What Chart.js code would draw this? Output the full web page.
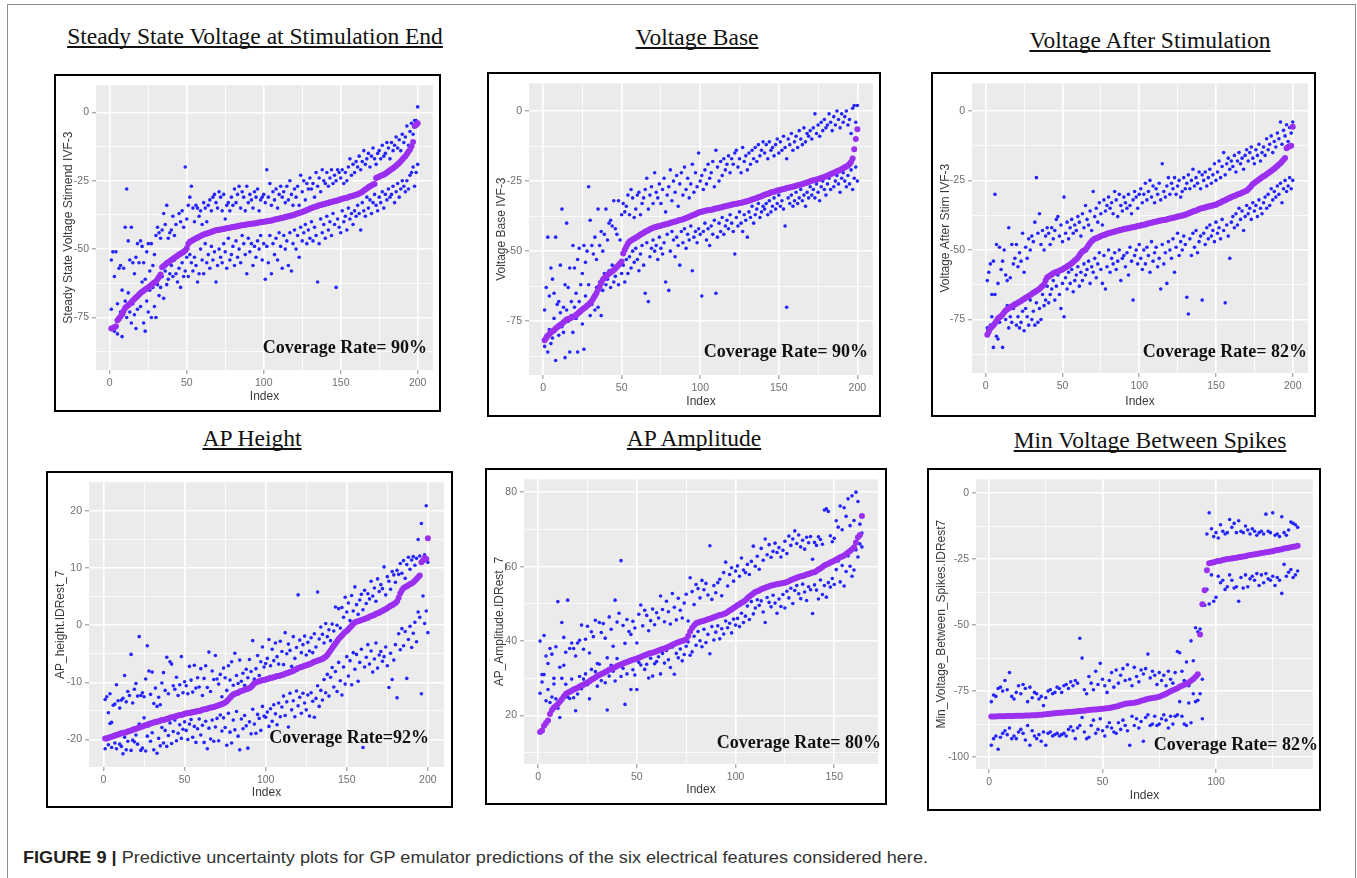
<!DOCTYPE html>
<html>
<head>
<meta charset="utf-8">
<script src="https://cdn.jsdelivr.net/npm/chart.js@4"></script>
<style>
    body { margin: 0; background: #fff; width: 1357px; height: 878px; position: relative; overflow: hidden; }
    .frame { position: absolute; left: 7px; top: 4px; width: 1349px; height: 900px; box-sizing: border-box; border: 1.5px solid #8c8c8c; border-bottom: none; }
    .title { position: absolute; font-family: "Liberation Serif", serif; font-size: 23.5px; line-height: 1; color: #111; white-space: nowrap;
             text-decoration: underline; text-decoration-thickness: 1.5px; text-underline-offset: 2px; text-decoration-skip-ink: none; transform: translateX(-50%); }
    .box { position: absolute; box-sizing: border-box; border: 2px solid #000; background: #fff; }
    .box canvas { position: absolute; left: 0; top: 0; }
    .caption { position: absolute; left: 23px; top: 849px; font-family: "Liberation Sans", Arial, sans-serif; font-size: 17px; line-height: 1;
               color: #333; white-space: nowrap; transform-origin: 0 0; }
    .caption b { color: #231f20; }
</style>
</head>
<body>
<div class="frame"></div>
<div id="panels"></div>
<div class="caption" id="caption"><b>FIGURE 9 |</b> Predictive uncertainty plots for GP emulator predictions of the six electrical features considered here.</div>
<script>
// --- tick values ---
const xTicks200 = [0, 25, 50, 75, 100, 125, 150, 175, 200];
const xTicksAmp = [0, 25, 50, 75, 100, 125, 150];
const xTicksMin = [0, 25, 50, 75, 100, 125];
const yTicksVolt = [-87.5, -75, -62.5, -50, -37.5, -25, -12.5, 0];
const yTicksHeight = [-20, -15, -10, -5, 0, 5, 10, 15, 20];
const yTicksAmp = [10, 20, 30, 40, 50, 60, 70, 80];
const yTicksMin = [-100, -87.5, -75, -62.5, -50, -37.5, -25, -12.5, 0];

// --- Steady State Voltage at Stimulation End ---
const steadyMean = [
    -79,-79,-78.6,-78.2,-76,-75.4,-74.6,-73.6,-72.6,-71.5,
    -71,-70.5,-70,-69.4,-68.8,-68.2,-67.7,-67.2,-66.6,-66,
    -65.6,-65.2,-64.8,-64.4,-64,-63.6,-63.1,-62.6,-62.2,-61.8,
    -61,-60.2,-59.3,-56.6,-56.2,-55.7,-55.2,-54.8,-54.4,-54,
    -53.6,-53.2,-52.8,-52.4,-52,-51.7,-51.3,-51,-50.5,-49.7,
    -48,-47.3,-47,-46.7,-46.4,-46,-45.8,-45.5,-45.2,-44.9,
    -44.7,-44.5,-44.3,-44.1,-43.9,-43.7,-43.5,-43.3,-43.1,-43,
    -42.9,-42.8,-42.7,-42.6,-42.5,-42.4,-42.3,-42.2,-42,-41.9,
    -41.8,-41.7,-41.6,-41.5,-41.4,-41.3,-41.2,-41.1,-41,-40.9,
    -40.8,-40.7,-40.6,-40.6,-40.5,-40.4,-40.3,-40.2,-40.1,-40,
    -39.9,-39.8,-39.7,-39.6,-39.5,-39.4,-39.2,-39.1,-39,-38.8,
    -38.7,-38.6,-38.4,-38.3,-38.2,-38,-37.9,-37.7,-37.6,-37.4,
    -37.2,-37,-36.8,-36.6,-36.4,-36.2,-36,-35.7,-35.5,-35.2,
    -35,-34.8,-34.6,-34.4,-34.2,-34,-33.9,-33.7,-33.6,-33.4,
    -33.2,-33.1,-32.9,-32.8,-32.6,-32.5,-32.3,-32.2,-32,-31.8,
    -31.6,-31.5,-31.3,-31.2,-31,-30.8,-30.7,-30.5,-30.3,-30.1,
    -29.9,-29.7,-29.4,-29.1,-28.6,-28.2,-27.8,-27.4,-27,-26.7,
    -26.4,-26.2,-24,-23.7,-23.5,-23.2,-23,-22.7,-22.4,-22,
    -21.6,-21.2,-20.8,-20.4,-20,-19.5,-19,-18.5,-17.9,-17.2,
    -16.6,-16,-15.2,-14.4,-13.6,-12.4,-10.8,-5,-4.6,-4
];
const steadyUpper = [
    -54,-51,-60,-51,-70,-57,-56,-65,-57,-42,
    -28,-47,-54,-42,-55,-59,-53,-48,-55,-47,
    -49,-55,-61,-51,-48,-58,-48,-56,-52,-45,
    -42,-44,-46,-43,-37,-41,-34,-46,-44,-43,
    -38,-45,-41,-52,-37,-40,-36,-42,-20,-39,
    -34,-31,-27,-35,-40,-34,-35,-38,-36,-41,
    -33,-35,-40,-34,-32,-36,-31,-30,-33,-35,
    -29,-31,-36,-30,-39,-34,-33,-36,-31,-34,
    -28,-33,-30,-27,-35,-29,-31,-36,-27,-33,
    -30,-32,-35,-29,-31,-28,-36,-32,-31,-30,
    -33,-21,-31,-26,-34,-29,-32,-28,-35,-30,
    -27,-31,-29,-33,-27,-32,-25,-30,-34,-28,
    -31,-27,-34,-23,-29,-25,-32,-26,-28,-24,
    -28,-26,-31,-22,-27,-24,-29,-21,-25,-26,
    -22,-27,-24,-21,-26,-23,-25,-21,-22,-24,
    -21,-26,-22,-25,-20,-17,-23,-19,-22,-18,
    -20,-16,-21,-18,-14,-19,-17,-15,-20,-16,
    -13,-17,-19,-15,-14,-17,-12,-16,-15,-11,
    -13,-17,-11,-14,-12,-9,-13,-10,-14,-8,
    -11,-9,-5,-12,-7,-4,-8,-3,-3,2
];
const steadyLower = [
    -72,-79,-80,-78,-81,-76,-73,-82,-74,-69,
    -75,-66,-73,-77,-70,-74,-79,-72,-67,-71,
    -62,-77,-80,-69,-73,-65,-75,-64,-71,-75,
    -63,-67,-64,-60,-68,-58,-63,-61,-59,-56,
    -60,-54,-59,-62,-57,-64,-55,-60,-58,-53,
    -60,-52,-55,-58,-53,-56,-62,-59,-50,-54,
    -59,-48,-55,-52,-57,-49,-54,-51,-62,-56,
    -50,-53,-55,-48,-51,-57,-46,-54,-52,-49,
    -56,-47,-53,-50,-55,-45,-48,-52,-59,-46,
    -51,-48,-56,-49,-53,-47,-50,-45,-54,-48,
    -61,-49,-55,-45,-59,-48,-52,-46,-54,-44,
    -49,-57,-45,-50,-47,-56,-44,-58,-48,-43,
    -50,-45,-53,-42,-47,-44,-41,-48,-43,-46,
    -40,-47,-42,-45,-62,-48,-39,-44,-41,-46,
    -38,-43,-40,-45,-37,-41,-64,-39,-42,-44,
    -36,-40,-38,-43,-35,-39,-37,-41,-36,-38,
    -34,-37,-43,-33,-36,-38,-31,-35,-32,-37,
    -33,-30,-34,-36,-31,-33,-29,-35,-30,-32,
    -28,-31,-30,-27,-33,-29,-26,-31,-28,-25,
    -27,-29,-25,-28,-23,-22,-20,-27,-22,-19
];

// --- Voltage Base ---
const baseMean = [
    -81.8,-81,-80.3,-79.6,-79,-78.6,-78.2,-77.6,-77.2,-76.7,
    -76.3,-75.9,-75.4,-74.9,-74.4,-74.2,-74,-73.8,-73.5,-73.2,
    -72.8,-72.3,-71.8,-71.3,-70.8,-70.4,-70,-69.5,-69,-68.5,
    -67.8,-66.9,-65.9,-64.9,-63.8,-62.6,-61.4,-60.2,-59.6,-59,
    -58.5,-58,-57.6,-57.2,-56.7,-56.2,-55.6,-55,-54.4,-53.7,
    -50.8,-49.5,-48.3,-47.3,-46.6,-46.2,-45.8,-45.5,-45.2,-44.9,
    -44.5,-44.1,-43.8,-43.4,-43.1,-42.8,-42.5,-42.2,-41.9,-41.7,
    -41.5,-41.3,-41.2,-41,-40.9,-40.7,-40.6,-40.4,-40.3,-40.1,
    -39.9,-39.8,-39.6,-39.4,-39.3,-39.1,-38.9,-38.8,-38.6,-38.4,
    -38.2,-38,-37.7,-37.5,-37.2,-37,-36.8,-36.5,-36.3,-36,
    -35.9,-35.8,-35.6,-35.5,-35.4,-35.3,-35.2,-35.1,-34.9,-34.8,
    -34.7,-34.5,-34.4,-34.3,-34.1,-34,-33.8,-33.7,-33.6,-33.4,
    -33.3,-33.2,-33.1,-33,-32.8,-32.7,-32.6,-32.5,-32.3,-32.2,
    -32,-31.8,-31.6,-31.4,-31.2,-31,-30.8,-30.6,-30.4,-30.1,
    -29.9,-29.7,-29.5,-29.3,-29.1,-28.9,-28.8,-28.6,-28.4,-28.3,
    -28.1,-28,-27.8,-27.7,-27.5,-27.4,-27.3,-27.1,-27,-26.8,
    -26.7,-26.5,-26.4,-26.2,-26.1,-25.9,-25.7,-25.5,-25.3,-25.1,
    -24.9,-24.7,-24.6,-24.4,-24.3,-24.1,-23.9,-23.7,-23.5,-23.3,
    -23,-22.8,-22.5,-22.3,-22,-21.8,-21.5,-21.3,-21,-20.7,
    -20.4,-20.1,-19.8,-19.4,-18.9,-18.2,-16.9,-13.6,-10,-6.5
];
const baseUpper = [
    -71,-63,-45,-66,-56,-60,-65,-45,-69,-68,
    -55,-35,-70,-62,-40,-63,-56,-68,-48,-56,
    -65,-53,-49,-62,-58,-48,-54,-50,-27,-39,
    -48,-51,-45,-53,-35,-48,-43,-50,-44,-35,
    -46,-40,-39,-41,-32,-42,-44,-32,-46,-37,
    -33,-36,-34,-30,-37,-28,-31,-38,-35,-30,
    -29,-37,-33,-31,-28,-24,-35,-30,-27,-33,
    -22,-29,-31,-26,-33,-28,-24,-36,-30,-27,
    -21,-32,-25,-29,-23,-34,-26,-22,-30,-20,
    -28,-24,-31,-26,-19,-29,-22,-27,-15,-25,
    -23,-28,-21,-26,-19,-24,-22,-18,-27,-14,
    -20,-25,-18,-23,-17,-21,-19,-16,-22,-17,
    -19,-15,-14,-20,-17,-22,-13,-18,-16,-21,
    -15,-19,-14,-17,-13,-18,-12,-16,-14,-11,
    -15,-12,-17,-11,-14,-13,-16,-12,-10,-15,
    -11,-14,-9,-13,-17,-10,-12,-8,-14,-11,
    -9,-13,-7,-10,-12,-6,-11,-8,-9,-7,
    -10,-6,-1,-8,-5,-9,-4,-7,-3,-6,
    -5,-1,-4,-7,-2,-5,0,-3,-6,-1,
    -4,-2,0,-5,-3,-8,1,2,-4,2
];
const baseLower = [
    -84,-80,-86,-78,-83,-81,-74,-89,-77,-80,
    -72,-77,-79,-88,-71,-75,-86,-73,-79,-70,
    -74,-86,-68,-72,-76,-85,-66,-70,-62,-73,
    -69,-66,-71,-63,-70,-61,-73,-64,-58,-62,
    -60,-57,-63,-55,-61,-59,-56,-62,-54,-58,
    -55,-61,-53,-58,-52,-56,-50,-54,-49,-53,
    -57,-51,-48,-55,-65,-47,-68,-52,-49,-46,
    -50,-48,-53,-45,-49,-51,-47,-61,-44,-64,
    -50,-43,-46,-52,-45,-48,-55,-43,-47,-42,
    -49,-44,-46,-41,-57,-45,-43,-47,-42,-44,
    -66,-43,-40,-46,-42,-48,-41,-44,-39,-65,
    -45,-40,-43,-38,-44,-41,-39,-42,-37,-40,
    -43,-51,-38,-41,-36,-40,-43,-37,-39,-45,
    -36,-38,-34,-40,-37,-35,-33,-38,-36,-34,
    -35,-33,-37,-32,-36,-34,-31,-35,-33,-30,
    -34,-32,-35,-41,-70,-31,-33,-30,-34,-32,
    -29,-33,-31,-28,-32,-30,-34,-29,-31,-27,
    -30,-28,-31,-26,-29,-32,-27,-25,-28,-30,
    -26,-24,-28,-22,-27,-25,-23,-26,-29,-24,
    -22,-25,-27,-23,-26,-21,-28,-24,-20,-25
];

// --- Voltage After Stimulation ---
const afterMean = [
    -80.5,-79.3,-78.2,-77.6,-77,-76.3,-75.5,-74.6,-74.2,-73.8,
    -73.2,-72.4,-71.7,-71.3,-70.9,-70.6,-70.2,-69.9,-69.6,-69.3,
    -69,-68.6,-68.3,-67.9,-67.6,-67.2,-66.9,-66.5,-66.2,-65.8,
    -65.4,-65.1,-64.7,-64.4,-64,-63.4,-62.9,-62.3,-61,-59.9,
    -59.5,-59.2,-58.8,-58.4,-58.1,-57.9,-57.7,-57.5,-57.2,-57,
    -56.6,-56.3,-55.9,-55.6,-55.2,-54.8,-54.3,-53.8,-53.3,-52.8,
    -52,-51.2,-50.5,-50.2,-49.9,-49.1,-48.3,-47.5,-46.9,-46.3,
    -46,-45.8,-45.5,-45.3,-45,-44.8,-44.6,-44.4,-44.2,-44,
    -43.8,-43.7,-43.5,-43.4,-43.2,-43.1,-42.9,-42.8,-42.6,-42.5,
    -42.4,-42.3,-42.2,-42,-41.9,-41.8,-41.7,-41.6,-41.4,-41.3,
    -41.2,-41,-40.9,-40.8,-40.6,-40.5,-40.3,-40.2,-40,-39.9,
    -39.8,-39.7,-39.5,-39.4,-39.3,-39.2,-39.1,-39,-38.8,-38.7,
    -38.6,-38.4,-38.3,-38.2,-38,-37.9,-37.8,-37.6,-37.5,-37.3,
    -37.1,-36.9,-36.6,-36.4,-36.2,-36,-35.8,-35.6,-35.3,-35.1,
    -35,-34.8,-34.7,-34.5,-34.4,-34.3,-34.1,-34,-33.8,-33.7,
    -33.4,-33.1,-32.9,-32.6,-32.3,-32.1,-31.8,-31.5,-31.3,-31,
    -30.8,-30.6,-30.3,-30.1,-29.9,-29.7,-29.4,-29.2,-28.9,-28.7,
    -28.2,-27.6,-27,-26.3,-25.9,-25.5,-25.1,-24.7,-24.3,-23.9,
    -23.5,-23.2,-22.8,-22.4,-22,-21.6,-21.2,-20.8,-20.3,-19.8,
    -19.3,-18.8,-18.2,-17.6,-16.9,-13.4,-13,-12.7,-12.5,-5.7
];
const afterUpper = [
    -61,-58,-55,-66,-54,-30,-48,-62,-49,-57,
    -54,-50,-59,-61,-42,-60,-48,-55,-53,-48,
    -56,-51,-54,-44,-58,-49,-53,-46,-50,-45,
    -47,-40,-24,-44,-37,-48,-43,-50,-45,-42,
    -44,-48,-42,-46,-43,-39,-38,-45,-41,-47,
    -31,-44,-40,-46,-42,-39,-44,-41,-43,-38,
    -40,-45,-37,-42,-34,-39,-41,-36,-43,-29,
    -38,-35,-40,-33,-37,-41,-32,-36,-34,-31,
    -35,-33,-37,-29,-32,-38,-30,-34,-36,-31,
    -33,-35,-30,-34,-37,-32,-29,-31,-35,-30,
    -28,-33,-30,-26,-32,-29,-25,-31,-27,-33,
    -28,-30,-26,-32,-19,-29,-31,-27,-24,-30,
    -26,-28,-24,-30,-27,-25,-31,-29,-24,-28,
    -26,-23,-28,-25,-21,-27,-24,-26,-22,-28,
    -23,-25,-22,-27,-24,-21,-26,-23,-19,-25,
    -22,-18,-24,-20,-15,-23,-19,-17,-21,-18,
    -20,-16,-22,-18,-15,-19,-17,-21,-16,-14,
    -18,-15,-13,-17,-19,-14,-16,-12,-18,-15,
    -13,-16,-10,-14,-12,-9,-15,-11,-13,-8,
    -10,-4,-12,-7,-9,-5,-11,-6,-8,-4
];
const afterLower = [
    -78,-80,-77,-74,-85,-66,-81,-82,-76,-74,
    -85,-72,-75,-70,-78,-74,-76,-71,-69,-77,
    -74,-78,-76,-72,-79,-71,-74,-77,-68,-75,
    -72,-77,-69,-76,-71,-75,-66,-70,-68,-63,
    -69,-66,-64,-61,-68,-63,-59,-66,-71,-62,
    -74,-60,-64,-58,-62,-57,-65,-61,-59,-56,
    -63,-58,-61,-55,-59,-57,-54,-62,-56,-58,
    -53,-60,-55,-51,-57,-62,-52,-64,-56,-50,
    -58,-53,-55,-51,-57,-54,-50,-61,-53,-52,
    -56,-51,-59,-49,-54,-68,-52,-50,-55,-48,
    -53,-57,-50,-55,-49,-52,-58,-47,-54,-51,
    -49,-56,-53,-64,-48,-55,-51,-62,-47,-50,
    -53,-46,-58,-49,-44,-52,-47,-50,-45,-48,
    -67,-73,-46,-52,-44,-49,-43,-51,-47,-45,
    -68,-44,-48,-42,-46,-41,-45,-43,-47,-40,
    -44,-42,-46,-39,-43,-69,-41,-45,-53,-40,
    -38,-42,-37,-41,-35,-39,-36,-43,-38,-34,
    -37,-35,-39,-33,-36,-34,-38,-32,-35,-37,
    -33,-31,-35,-30,-34,-28,-32,-29,-31,-27,
    -30,-26,-33,-28,-25,-29,-27,-24,-28,-25
];

// --- AP Height ---
const heightMean = [
    -19.8,-19.8,-19.7,-19.6,-19.5,-19.4,-19.3,-19.2,-19.1,-19,
    -18.9,-18.8,-18.8,-18.7,-18.6,-18.5,-18.4,-18.3,-18.2,-18.1,
    -18,-17.9,-17.8,-17.7,-17.6,-17.5,-17.4,-17.3,-17.2,-17.1,
    -17,-16.9,-16.9,-16.8,-16.7,-16.6,-16.6,-16.5,-16.4,-16.3,
    -16.2,-16.1,-16.1,-16,-15.9,-15.8,-15.7,-15.7,-15.6,-15.5,
    -15.4,-15.4,-15.3,-15.3,-15.2,-15.2,-15.1,-15,-15,-14.9,
    -14.8,-14.7,-14.7,-14.6,-14.5,-14.4,-14.4,-14.3,-14.2,-14.1,
    -14,-13.9,-13.8,-13.7,-13.5,-13.3,-13,-12.7,-12.4,-12.1,
    -12,-11.9,-11.8,-11.6,-11.5,-11.4,-11.3,-11.2,-11.1,-11,
    -10.8,-10.5,-10.1,-10,-9.9,-9.8,-9.7,-9.6,-9.6,-9.5,
    -9.4,-9.3,-9.2,-9.2,-9.1,-9,-8.9,-8.9,-8.8,-8.7,
    -8.6,-8.5,-8.4,-8.3,-8.2,-8.1,-8,-7.8,-7.7,-7.5,
    -7.4,-7.3,-7.2,-7.1,-7,-6.9,-6.8,-6.7,-6.5,-6.4,
    -6.3,-6.2,-6.1,-6,-5.9,-5.7,-5.5,-5.2,-4.8,-4.4,
    -4,-3.6,-3.2,-2.8,-2.4,-2.1,-1.8,-1.5,-1.2,-1,
    -0.7,-0.4,-0.1,0.2,0.5,0.6,0.7,0.8,0.9,1,
    1.1,1.2,1.3,1.5,1.6,1.7,1.8,2,2.1,2.2,
    2.4,2.5,2.7,2.8,3,3.2,3.4,3.5,3.7,3.9,
    4.2,4.8,5.6,6.1,6.5,6.7,6.8,7,7.2,7.3,
    7.5,7.8,8.1,8.4,8.7,11,11.3,11.8,11.6,15.2
];
const heightUpper = [
    -13,-12.5,-15.3,-12,-17,-14,-13.8,-10.4,-13.2,-14.5,
    -13.1,-12.8,-8.8,-13.4,-11.6,-12.3,-5.1,-13.6,-11.2,-10.2,
    -12.4,-2,-12.3,-11.8,-12.5,-9.4,-3.6,-8,-12.1,-8.2,
    -13.7,-11,-14.2,-12.6,-13.9,-10.1,-8.3,-11.4,-5.6,-12,
    -6.4,-6.8,-10.6,-11.2,-9.1,-12.3,-10.4,-5.5,-11.8,-9.9,
    -10.6,-12,-7.2,-9.6,-11.7,-7,-11,-9.2,-10.8,-7.6,
    -12.3,-9.3,-7.1,-10.9,-4.7,-11.6,-8,-9.5,-5.3,-9.4,
    -10.3,-8.6,-12.5,-7.5,-9.2,-11.4,-7.1,-9.6,-6.4,-10.5,
    -4.9,-8.8,-10.2,-6.1,-9.8,-8.4,-10.5,-7.7,-9.2,-6,
    -8.1,-2.7,-9.4,-7.6,-5.3,-8.8,-6.4,-3.8,-7.3,-6.7,
    -5.8,-2.5,-7.1,-4.2,-6.2,-3.1,-5.5,-6.8,-2.8,-4.6,
    -6.9,-1.3,-5,-3.3,-4.4,-7.2,-2,-5.8,-3.9,5.3,
    -2.6,-4.8,-3.4,-1.9,-5.2,-3,-4.5,-2.2,-4.8,-1.5,
    -3.8,5.8,-2.4,-0.3,-1.6,-3.1,0.3,-2,-0.8,-2.7,
    0.2,-1,3.2,0,2.9,-0.5,3.1,1.4,4.9,2.3,
    3.9,0.8,5.2,2.5,6.7,3.6,1.9,4.4,5.4,2.7,
    6.1,3.8,5.5,4.6,7.7,5.1,6.5,4.2,8.1,5.9,
    7.1,6.4,10.2,5.3,8.5,7.7,6.3,9.4,8.8,7.5,
    9.6,8.9,10.8,9.1,11.3,8.2,10.6,11.9,9.8,11.4,
    12,10.5,11.7,15,12.1,17.8,11.2,12.3,20.9,11
];
const heightLower = [
    -21.6,-19.8,-20.9,-17.2,-21.4,-19.5,-20.6,-21.6,-19.1,-20.8,
    -21.2,-22.5,-19.6,-21.8,-20.3,-18.5,-21.9,-20.1,-20.4,-19.2,
    -20.8,-17.3,-21.9,-21.5,-16.2,-22,-19.4,-17.6,-20.3,-18.8,
    -21.8,-16.9,-22.4,-19.8,-21.1,-17.9,-20.6,-18.4,-21.2,-19.3,
    -17.1,-20.7,-18.6,-16.6,-20.2,-18.9,-17.4,-19.8,-18.2,-16.9,
    -18.4,-20,-17.3,-16.5,-19.6,-17.7,-20.5,-18.1,-16.4,-19.2,
    -17.5,-20.5,-16.8,-21.6,-18,-19.9,-16.6,-20.3,-17.8,-16.3,
    -20.2,-15.7,-18.5,-16.2,-17.9,-21,-15.4,-18.7,-20.6,-16.6,
    -18.3,-15.1,-19.4,-21.8,-16.4,-18.1,-15.8,-17.6,-21.5,-16.9,
    -19,-14.7,-17.3,-18.9,-15.6,-16.3,-18.4,-14.2,-15.9,-16.1,
    -15.2,-17.7,-14.6,-16.8,-13.9,-15.5,-17.4,-13.6,-16,-14.3,
    -12.4,-15.8,-13.4,-17.8,-11.9,-14.8,-13.2,-16,-11.5,-14.1,
    -12.6,-15.4,-11.9,-13.6,-14.8,-12.2,-15.9,-11.8,-13.3,-16.1,
    -12.8,-10.6,-14.2,-11.4,-13.1,-9.5,-11.8,-8.6,-12.4,-9.1,
    -7.4,-10.8,-8.1,-11.6,-6.5,-9.7,-12.2,-7.3,-10.3,-5.5,
    -8.9,-6.2,-10.4,-4.8,-7.7,-5.1,-9.8,-6.5,-4.2,-21.4,
    -7.3,-5.6,-3.4,-6.8,-4.5,-8.2,-5.9,-3.1,-7.5,-5.2,
    -4.6,-6.3,-5.5,-3.8,-7.1,-10.9,-4.9,-9.5,-6.1,-3.4,
    -12.7,-1.5,-4.3,-0.6,-3.6,-1.1,-9.3,-2.5,-0.2,-3.9,
    -1.4,0.5,-2.9,2.3,1.4,-12,5.1,0.3,2.5,-1.3
];

// --- AP Amplitude ---
const ampMean = [
    15.6,16,17.3,18,18.7,20.4,21.5,22.2,22.6,23.1,
    23.7,24.4,25.1,25.8,26.1,26.4,26.7,27,27.2,27.5,
    27.8,28.1,28.3,28.6,28.9,29.2,29.6,29.9,30.2,30.6,
    30.9,31.2,31.4,31.7,32,32.3,32.5,32.8,33,33.3,
    33.5,33.7,34,34.2,34.4,34.6,34.8,35,35.1,35.3,
    35.5,35.7,36,36.2,36.4,36.6,36.8,36.9,37.1,37.3,
    37.5,37.7,37.9,38,38.2,38.5,38.7,39,39.2,39.5,
    39.7,39.9,40,40.2,40.4,41.4,42.6,43.5,44.2,44.8,
    45,45.2,45.3,45.5,45.7,45.9,46,46.2,46.4,46.6,
    46.8,47,47.1,47.3,47.5,47.8,48.2,48.5,48.9,49.2,
    49.6,49.9,50.3,50.6,51,51.5,52,52.4,52.8,53.2,
    53.4,53.6,53.9,54.1,54.3,54.5,54.7,54.9,55,55.2,
    55.3,55.4,55.5,55.6,55.7,55.9,56.1,56.4,56.6,56.8,
    57,57.2,57.4,57.5,57.7,57.9,58,58.2,58.4,58.5,
    58.8,59.2,59.5,59.9,60.3,60.6,60.8,61.1,61.3,61.6,
    61.9,62.2,62.5,62.7,63,63.4,63.8,64.2,64.7,65.2,
    66.5,67.9,68.5,73.6
];
const ampUpper = [
    40,31,41.5,36,34,38,36.5,30,38.5,50.6,
    33,45,41,37,51,38,39.5,38,36,39.5,
    40.2,44.3,37.8,40.5,44,36.8,42.5,41.2,45.6,34,
    45,42.3,44.7,40.8,35.5,46.5,43.2,38.6,51,45.1,
    47.5,61.6,44.2,39.4,45.8,42.6,41.8,45.3,43.5,39.5,
    47.2,49.7,44.1,48.3,46.9,42.8,45.5,48.6,44.4,47.6,
    46.2,52.1,48.5,45.2,50.7,47.9,44.6,52.8,49.1,45.7,
    51.5,48.3,46.2,50.2,52.6,45.4,57,53.3,49.8,55.2,
    54.1,51.6,56.3,53.8,55.5,52.4,65.6,51.2,54.9,53,
    55.7,56.6,52.2,58.4,61.2,54.8,57.9,59.7,56.1,58.8,
    60.2,57.4,62.3,59.1,58.4,60.6,57.9,61.4,65.5,60.1,
    62.8,59.3,64.9,61.7,67.4,63.2,65.9,62.5,64.1,66.3,
    63.8,65.1,62.6,64.4,66.8,63.5,68.2,65.7,67.4,69.6,
    66.2,68.5,65.3,67.1,64.7,67.9,66.4,68.1,62,66.5,
    65.7,68,67.3,66,75.2,75.5,74.8,68.3,66.7,67.6,
    72.3,70.6,76.3,69.9,75.8,73.5,78.2,71,79,72.4,
    80,77.5,71.4,69
];
const ampLower = [
    26,29,31,24,27,23.5,25,28.5,24.5,22,
    19.5,30,33.5,28.4,25,24.6,29.8,24.8,21.3,25.8,
    30.5,27.2,29.8,31.2,28.3,24.5,32.4,29.7,31.8,27.9,
    33.8,29.4,31.3,28.8,21.5,30.6,33.5,31.9,29.3,35.3,
    33.8,30.5,32.7,23,31.2,34.5,27,32.3,30.9,27,
    34.3,33.6,36.1,32.4,33.8,30.1,35.4,30.6,33.9,34.5,
    35.8,31.2,36.7,34.1,37.5,35,32.9,38.4,31.1,36.7,
    35.5,37.9,34.7,36.4,38.6,39.8,36.2,37.1,41.3,38.9,
    42.6,40.1,38.5,43.2,39.6,41.8,36.6,43.9,40.3,42.4,
    44.1,40.6,43.3,41.9,45.4,43.6,44.8,42.2,45.9,44.3,
    46.1,43.9,47.5,45,46.7,49.4,45.8,50.6,47.3,48.9,
    51.1,49.6,50.8,47.8,45,51.7,50.4,49.2,52.3,50.2,
    47.5,51.3,49.3,52.5,48.9,53.4,51.6,54.2,50.1,53.6,
    54.9,52.7,51.4,55.3,53.2,50.9,54.6,53.8,47.4,55.1,
    53.7,51.3,56.4,52.5,54.9,51.8,55.7,54.5,56.8,55.2,
    59.2,61.5,55.9,60.3,54.8,58.7,62.9,60.1,57.4,59.1,
    64.5,62.6,66.1,65.3
];

// --- Min Voltage Between Spikes ---
const minVMean = [
    -84.6,-84.6,-84.6,-84.5,-84.5,-84.5,-84.5,-84.4,-84.4,-84.4,
    -84.4,-84.3,-84.3,-84.3,-84.3,-84.2,-84.2,-84.2,-84.1,-84.1,
    -84.1,-84,-84,-83.9,-83.8,-83.7,-83.6,-83.5,-83.4,-83.3,
    -83.2,-83.2,-83.1,-83,-82.9,-82.9,-82.8,-82.7,-82.6,-82.5,
    -82.4,-82.4,-82.3,-82.2,-82.1,-82,-82,-81.9,-81.8,-81.7,
    -81.6,-81.5,-81.4,-81.2,-81,-80.8,-80.6,-80.3,-80.1,-79.8,
    -79.7,-79.6,-79.5,-79.4,-79.2,-79,-78.7,-78.5,-78.2,-77.9,
    -77.8,-77.6,-77.5,-77.3,-77.1,-76.8,-76.4,-76,-75.5,-75.1,
    -74.7,-74.3,-73.9,-73.4,-73,-72.6,-72.2,-71.7,-71.1,-70.4,
    -69.6,-68.6,-53.6,-42.1,-36.8,-29.2,-26.6,-26.4,-26.2,-25.9,
    -25.7,-25.6,-25.4,-25.2,-25,-24.9,-24.8,-24.6,-24.5,-24.3,
    -24.2,-24,-23.9,-23.7,-23.5,-23.4,-23.2,-23.1,-22.9,-22.7,
    -22.6,-22.4,-22.3,-22.1,-22,-21.8,-21.6,-21.5,-21.3,-21,
    -20.9,-20.7,-20.5,-20.3,-20.2,-20
];
const minVUpper = [
    -79,-76.5,-77,-74,-73.5,-75,-71,-74.5,-68,-77,
    -78,-75.5,-73,-76,-72.5,-74,-79,-73.5,-77.5,-75.5,
    -76,-78,-77,-80.5,-77.5,-75,-74.5,-76,-75.5,-73.5,
    -74,-75.5,-73,-72.5,-74,-71.5,-73,-71,-72,-55,
    -62.5,-74.5,-76,-69.5,-72,-74.5,-67.5,-72.5,-64.5,-70.5,
    -73,-75.5,-71,-68,-73.5,-67,-72,-69,-66.5,-71,
    -65,-70.5,-73,-66,-69.5,-71.5,-67,-68.5,-66.5,-61,
    -70,-67.5,-69,-72.5,-68,-71,-69,-73,-67.5,-70.5,
    -72,-68,-60,-60.5,-67.5,-71,-64,-73,-56,-63.5,
    -51,-52.5,-51.5,-70.5,-37,-15.5,-7.5,-13.5,-16.5,-15,
    -17,-12,-14.5,-15.5,-15,-10,-13,-11.5,-15,-10.5,
    -14.5,-15,-12.5,-14,-15.5,-13.5,-14.5,-16,-15,-14.5,
    -15.5,-8,-14.5,-15,-7.5,-16,-15.5,-16.5,-9,-15,
    -16,-14,-11,-11.5,-12,-13
];
const minVLower = [
    -95.5,-93,-92,-97,-92.5,-91,-90,-91.5,-89,-93,
    -92,-93,-90.5,-89.5,-91,-93.5,-88,-95.5,-90,-92,
    -93,-91.5,-94,-90.5,-95.5,-91,-90.5,-92,-91.5,-91,
    -92,-91.5,-91,-92,-89.5,-88.5,-90,-93,-89,-88,
    -85,-90.5,-93,-92.5,-88,-86,-91,-89.5,-85.5,-90,
    -92,-88.5,-87,-89,-90.5,-91,-87,-89.5,-86,-88,
    -90,-95.5,-84.5,-88,-85.5,-89,-86.5,-94,-85,-84,
    -88,-87.5,-84.5,-88,-87.5,-85.5,-84,-86,-89,-84.5,
    -87.5,-84.5,-84,-79,-84.5,-87.5,-88,-79.5,-87,-76,
    -79,-78.5,-76,-85.5,-42.5,-36.5,-42,-31,-41,-39.5,
    -31.5,-34,-33,-36.5,-35.5,-31,-33,-36,-35.5,-41,
    -32,-36,-31,-35.5,-32.5,-31.5,-33,-30.5,-35,-31,
    -34,-30.5,-32.5,-33,-31.5,-35,-32,-33,-38,-27,
    -31.5,-30,-29,-32,-31,-29.5
];

// panel layout: box = outer border [l, t, r, b], area = grey plot panel [l, t, r, b]
const panels = [
    { title: 'Steady State Voltage at Stimulation End', tx: 255, ty: 25, box: [54, 74, 441, 412], area: [96, 82, 433, 370],
      yLabel: 'Steady State Voltage Stimend IVF-3', mean: steadyMean, upper: steadyUpper, lower: steadyLower,
      x: [-8.95, 209.95], y: [-94.2, 9.9], xTicks: xTicks200, yTicks: yTicksVolt, yMajor: 25, cover: 'Coverage Rate= 90%', cov: [6, 17] },
    { title: 'Voltage Base', tx: 697, ty: 26, box: [487, 72, 881, 417], area: [529, 80, 873, 375],
      yLabel: 'Voltage Base IVF-3', mean: baseMean, upper: baseUpper, lower: baseLower,
      x: [-8.95, 209.95], y: [-94.2, 9.9], xTicks: xTicks200, yTicks: yTicksVolt, yMajor: 25, cover: 'Coverage Rate= 90%', cov: [5, 18] },
    { title: 'Voltage After Stimulation', tx: 1150, ty: 29, box: [931, 72, 1316, 417], area: [972, 79, 1308, 373],
      yLabel: 'Voltage After Stim IVF-3', mean: afterMean, upper: afterUpper, lower: afterLower,
      x: [-8.95, 209.95], y: [-94.2, 9.9], xTicks: xTicks200, yTicks: yTicksVolt, yMajor: 25, cover: 'Coverage Rate= 82%', cov: [1, 16] },
    { title: 'AP Height', tx: 252, ty: 427, box: [46, 471, 453, 808], area: [89, 477, 444, 767],
      yLabel: 'AP_height.IDRest_7', mean: heightMean, upper: heightUpper, lower: heightLower,
      x: [-8.95, 209.95], y: [-24.8, 25], xTicks: xTicks200, yTicks: yTicksHeight, yMajor: 10, cover: 'Coverage Rate=92%', cov: [15, 24] },
    { title: 'AP Amplitude', tx: 694, ty: 427, box: [485, 468, 887, 805], area: [524, 476, 878, 764],
      yLabel: 'AP_Amplitude.IDRest_7', mean: ampMean, upper: ampUpper, lower: ampLower,
      x: [-7.15, 172.15], y: [7, 83.45], xTicks: xTicksAmp, yTicks: yTicksAmp, yMajor: 20, cover: 'Coverage Rate= 80%', cov: [-3, 16] },
    { title: 'Min Voltage Between Spikes', tx: 1150, ty: 429, box: [927, 468, 1321, 811], area: [976, 476, 1313, 769],
      yLabel: 'Min_Voltage_Between_Spikes.IDRest7', mean: minVMean, upper: minVUpper, lower: minVLower,
      x: [-5.75, 142.75], y: [-104.5, 5.2], xTicks: xTicksMin, yTicks: yTicksMin, yMajor: 25, cover: 'Coverage Rate= 82%', cov: [-5, 19] }
];

const greyPanel = {
    id: 'greyPanel',
    beforeDraw(chart) {
        const { ctx, chartArea: a } = chart;
        ctx.save();
        ctx.fillStyle = '#ebebeb';
        ctx.fillRect(a.left, a.top, a.right - a.left, a.bottom - a.top);
        ctx.restore();
    }
};

const coverageText = {
    id: 'coverageText',
    afterDatasetsDraw(chart, args, opts) {
        const { ctx, chartArea: a } = chart;
        ctx.save();
        ctx.font = 'bold 18px "Liberation Serif", "Times New Roman", serif';
        ctx.fillStyle = '#111';
        ctx.textAlign = 'right';
        ctx.textBaseline = 'alphabetic';
        ctx.fillText(opts.text, a.right - opts.right, a.bottom - opts.bottom);
        ctx.restore();
    }
};

const toPoints = arr => arr.map((v, i) => ({ x: i + 1, y: v }));

const holder = document.getElementById('panels');

panels.forEach(p => {
    const t = document.createElement('div');
    t.className = 'title';
    t.textContent = p.title;
    t.style.left = p.tx + 'px';
    t.style.top = p.ty + 'px';
    holder.appendChild(t);

    const [bl, bt, br, bb] = p.box;
    const [al, at, ar, ab] = p.area;
    const box = document.createElement('div');
    box.className = 'box';
    box.style.left = bl + 'px';
    box.style.top = bt + 'px';
    box.style.width = (br - bl) + 'px';
    box.style.height = (bb - bt) + 'px';
    const canvas = document.createElement('canvas');
    canvas.width = br - bl - 4;
    canvas.height = bb - bt - 4;
    box.appendChild(canvas);
    holder.appendChild(box);

    const yWidth = al - (bl + 2);
    const xHeight = (bb - 2) - ab;
    const padTop = at - (bt + 2);
    const padRight = (br - 2) - ar;

    const isMajorX = v => v % 50 === 0;
    const isMajorY = v => Math.abs(v % p.yMajor) < 1e-9;

    const axisCommon = (isMajor, list) => ({
        type: 'linear',
        afterBuildTicks: s => { s.ticks = list.map(v => ({ value: v })); },
        border: { display: false },
        grid: {
            color: '#ffffff',
            lineWidth: c => (c.tick && isMajor(c.tick.value)) ? 1.6 : 0.8,
            tickColor: c => (c.tick && isMajor(c.tick.value)) ? '#8a8a8a' : 'rgba(0,0,0,0)',
            tickLength: 4,
            tickWidth: 1
        },
        ticks: {
            autoSkip: false,
            maxRotation: 0,
            padding: 3,
            color: '#6e6e6e',
            font: { family: '"Liberation Sans", Arial, sans-serif', size: 10.5 },
            callback: v => isMajor(v) ? String(v) : ''
        },
        title: {
            display: true,
            color: '#3a3a3a',
            font: { family: '"Liberation Sans", Arial, sans-serif', size: 12 }
        }
    });

    const xAxis = axisCommon(isMajorX, p.xTicks);
    xAxis.min = p.x[0];
    xAxis.max = p.x[1];
    xAxis.afterFit = s => { s.height = xHeight; };
    xAxis.title.text = 'Index';
    xAxis.title.padding = { top: 0, bottom: 6 };

    const yAxis = axisCommon(isMajorY, p.yTicks);
    yAxis.min = p.y[0];
    yAxis.max = p.y[1];
    yAxis.afterFit = s => { s.width = yWidth; };
    yAxis.title.text = p.yLabel;
    yAxis.title.padding = { top: 5, bottom: 0 };

    new Chart(canvas, {
        type: 'scatter',
        data: {
            datasets: [
                { data: toPoints(p.mean), backgroundColor: '#9b2ff0', borderColor: '#9b2ff0', borderWidth: 0, pointRadius: 3, order: 0 },
                { data: toPoints(p.upper), backgroundColor: '#2424ff', borderColor: '#2424ff', borderWidth: 0, pointRadius: 1.8, order: 1 },
                { data: toPoints(p.lower), backgroundColor: '#2424ff', borderColor: '#2424ff', borderWidth: 0, pointRadius: 1.8, order: 1 }
            ]
        },
        options: {
            responsive: false,
            animation: false,
            events: [],
            layout: { padding: { top: padTop, right: padRight, left: 0, bottom: 0 } },
            plugins: {
                legend: { display: false },
                tooltip: { enabled: false },
                coverageText: { text: p.cover, right: p.cov[0], bottom: p.cov[1] }
            },
            scales: { x: xAxis, y: yAxis }
        },
        plugins: [greyPanel, coverageText]
    });
});

// squeeze caption to the width it has in the figure
const cap = document.getElementById('caption');
const capW = cap.getBoundingClientRect().width;
cap.style.transform = 'scaleX(' + (905 / capW) + ')';
</script>
</body>
</html>
